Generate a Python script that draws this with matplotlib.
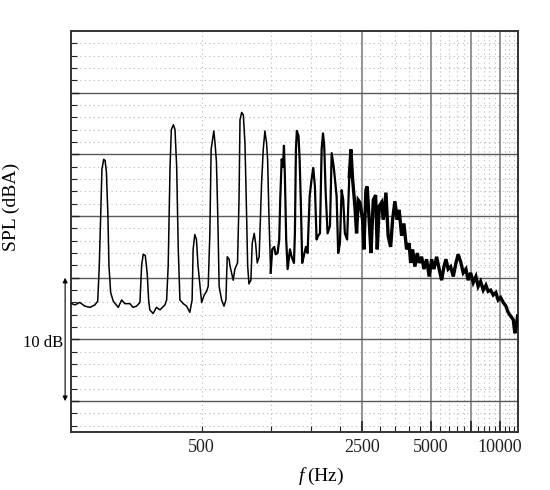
import matplotlib
matplotlib.use("Agg")
import matplotlib.pyplot as plt
from matplotlib.ticker import FixedLocator, FuncFormatter

plt.rcParams["font.family"] = ["Liberation Serif", "DejaVu Serif"]
plt.rcParams["mathtext.fontset"] = "custom"
plt.rcParams["mathtext.it"] = "Liberation Serif:italic"
plt.rcParams["mathtext.rm"] = "Liberation Serif"

# spectrum: frequency (Hz) and level (dBA, arbitrary offset)
freq_hz = [
    135.5, 140, 147, 154.5, 163, 171, 176, 178.8, 181.3, 183.6, 187, 189.5, 192,
    195, 197, 200.4, 205.8, 216.3, 223.8, 231, 243, 251, 260, 269, 273.6, 278,
    283.8, 289.5, 293.5, 297, 307, 317.5, 329, 345.8, 351.7, 357.3, 364, 368.7,
    376.4, 382.6, 389, 395.3, 402, 415.7, 429.8, 444, 454.3, 459, 466.7, 474.6,
    482, 495, 500, 513, 525.5, 534, 543, 550, 565, 572, 580, 588, 596, 611,
    625.6, 638, 646.5, 659, 664, 686.6, 698, 717, 727.8, 735, 747.5, 760, 772.5,
    782.8, 793.8, 804, 820, 831, 847.7, 860, 873.7, 891, 913, 928.5, 943.8, 960,
    970, 983, 1000, 1016, 1036.7, 1051.6, 1072.4, 1090, 1101, 1117, 1132, 1143,
    1154, 1169, 1186, 1214, 1235, 1264, 1276, 1289, 1301, 1323, 1338, 1355.5,
    1373, 1401, 1425, 1449, 1480, 1509, 1534.5, 1560, 1586, 1611.6, 1641, 1669,
    1692, 1713, 1738, 1772, 1815, 1846, 1884, 1908, 1940, 1971, 2006, 2040,
    2074, 2108, 2156, 2203, 2240, 2278, 2331, 2371, 2409, 2452, 2518, 2552,
    2604, 2638, 2690, 2739, 2804, 2872, 2918, 2977, 3049, 3100, 3184, 3256,
    3338, 3405, 3484, 3567, 3637, 3727, 3815, 3918, 4021, 4081, 4163, 4260,
    4361, 4446, 4557, 4665, 4790, 4916, 5039, 5158, 5297, 5436, 5572, 5704,
    5819, 5950, 6100, 6264, 6434, 6579, 6744, 6925, 7112, 7273, 7456, 7656,
    7863, 8041, 8243, 8464, 8694, 8890, 9114, 9359, 9612, 9829, 10078, 10348,
    10629, 10869, 11143, 11442, 11630, 11830, 11950,
]
spl_dba = [
    67.9, 67.8, 68.0, 67.7, 67.6, 67.8, 68.1, 71.0, 75.0, 78.8, 79.6, 79.5, 78.6,
    75.0, 71.0, 68.8, 68.1, 67.6, 68.2, 67.9, 67.9, 67.6, 67.7, 68.0, 71.0, 71.9,
    71.8, 70.3, 68.2, 67.4, 67.1, 67.6, 67.4, 67.8, 68.2, 71.0, 79.0, 82.0,
    82.4, 82.0, 79.0, 72.3, 68.2, 67.9, 67.7, 67.2, 68.2, 72.3, 73.5, 73.1,
    71.0, 68.8, 68.0, 68.6, 68.9, 69.3, 73.6, 80.4, 81.9, 80.9, 79.4, 75.0, 69.3, 68.2,
    67.7, 68.2, 71.7, 71.5, 71.0, 69.8, 70.7, 71.2, 76.3, 82.8, 83.4, 83.2, 80.9,
    76.3, 71.0, 69.5, 69.8, 72.8, 73.6, 72.8, 71.2, 71.7, 77.7, 80.4, 81.9, 80.9,
    79.6, 75.0, 70.4, 72.3, 72.5, 71.9, 72.0, 73.1, 76.3, 79.6, 79.0, 80.7,
    78.2, 73.1, 70.7, 72.3, 71.7, 71.2, 73.6, 80.4, 81.9, 81.5, 79.6, 75.8,
    71.2, 71.9, 72.5, 72.0, 76.6, 78.0, 78.9, 77.4, 73.1, 73.4, 73.6, 80.4,
    81.7, 80.7, 76.9, 73.6, 74.2, 80.1, 79.0, 78.0, 76.6, 72.0, 72.8, 77.1,
    76.3, 73.6, 73.1, 78.2, 80.4, 78.0, 75.8, 73.6, 76.3, 76.1, 74.7, 72.3,
    77.1, 77.4, 74.7, 72.0, 76.3, 76.7, 72.3, 75.8, 76.1, 74.7, 76.9, 73.4,
    72.5, 74.7, 76.2, 74.7, 75.5, 73.4, 74.4, 72.3, 72.8, 71.2, 72.3, 70.9,
    72.0, 71.2, 71.7, 70.7, 71.5, 70.1, 71.5, 70.7, 71.7, 70.7, 69.8, 70.9,
    71.5, 70.7, 70.9, 70.1, 71.2, 71.9, 71.3, 70.4, 70.7, 69.8, 70.4, 69.6,
    70.1, 69.3, 69.7, 69.0, 69.4, 68.9, 69.0, 68.6, 68.8, 68.2, 68.4, 68.0,
    67.7, 67.2, 66.9, 66.6, 65.5, 66.3, 66.9,
]

x_labels = {500: "500", 2500: "2500", 5000: "5000", 10000: "10000"}
major_hz = [2500, 5000, 7500, 10000]
minor_hz = [f for f in range(500, 12000, 500) if f not in major_hz]
DENSE_FROM = 1000   # above this the measured trace is a noisy, heavy band
BAND_FROM = 2200

fig = plt.figure(figsize=(5.5, 4.9), dpi=100)
ax = fig.add_axes([0.129, 0.1184, 0.8128, 0.8184])

ax.set_xscale("log")
ax.set_xlim(134.5, 12000)
ax.set_ylim(57.5, 90)

# grid: dotted minors, solid majors
for f in minor_hz:
    ax.axvline(f, color="#b8b8b8", lw=0.8, ls=(0, (1, 3)), zorder=0)
for v in range(58, 90):
    if v % 5:
        ax.axhline(v, color="#b8b8b8", lw=0.8, ls=(0, (1, 3)), zorder=0)
for f in major_hz:
    ax.axvline(f, color="#8a8a8a", lw=1.3, zorder=1)
for v in range(60, 90, 5):
    ax.axhline(v, color="#5a5a5a", lw=1.0, zorder=1)

# one trace, drawn heavier where the original is a dense noisy band
i1 = next(i for i, f in enumerate(freq_hz) if f >= DENSE_FROM)
i2 = next(i for i, f in enumerate(freq_hz) if f >= BAND_FROM)
ax.plot(freq_hz[:i1 + 1], spl_dba[:i1 + 1], color="black", lw=1.1, zorder=3)
ax.plot(freq_hz[i1:i2 + 1], spl_dba[i1:i2 + 1], color="black", lw=1.6, zorder=3)
ax.plot(freq_hz[i2:], spl_dba[i2:], color="black", lw=2.4, zorder=3,
        solid_joinstyle="miter")

ax.xaxis.set_major_locator(FixedLocator(major_hz))
ax.xaxis.set_minor_locator(FixedLocator(minor_hz))
ax.xaxis.set_major_formatter(FuncFormatter(lambda v, p: x_labels.get(int(round(v)), "")))
ax.xaxis.set_minor_formatter(FuncFormatter(lambda v, p: x_labels.get(int(round(v)), "")))
ax.yaxis.set_major_locator(FixedLocator(range(60, 90, 5)))
ax.yaxis.set_minor_locator(FixedLocator([v for v in range(58, 90) if v % 5]))
ax.set_yticklabels([])
ax.tick_params(which="both", direction="in", labelsize=13, colors="#222222")
ax.tick_params(axis="x", which="major", length=8, width=1.2, pad=5)
ax.tick_params(axis="x", which="minor", length=4, width=0.8, pad=5)
ax.tick_params(axis="y", which="major", length=6, width=1.0)
ax.tick_params(axis="y", which="minor", length=4, width=0.8)
for s in ax.spines.values():
    s.set_linewidth(1.4)
    s.set_color("#333333")

ax.set_xlabel(r"$f\;$(Hz)", fontsize=14)
ax.xaxis.set_label_coords(0.559, -0.085)
ax.set_ylabel("SPL (dBA)", fontsize=14)
ax.yaxis.set_label_coords(-0.115, 0.56)

# 10 dB scale arrow
ax.annotate("", xy=(-0.013, 60), xytext=(-0.013, 70),
            xycoords=("axes fraction", "data"), textcoords=("axes fraction", "data"),
            arrowprops=dict(arrowstyle="<|-|>", color="black", lw=0.8,
                            mutation_scale=7, shrinkA=0, shrinkB=0),
            annotation_clip=False)
ax.text(-0.018, 64.7, "10 dB", transform=ax.get_yaxis_transform(),
        ha="right", va="center", fontsize=12)

fig.savefig("out.png", dpi=100)
